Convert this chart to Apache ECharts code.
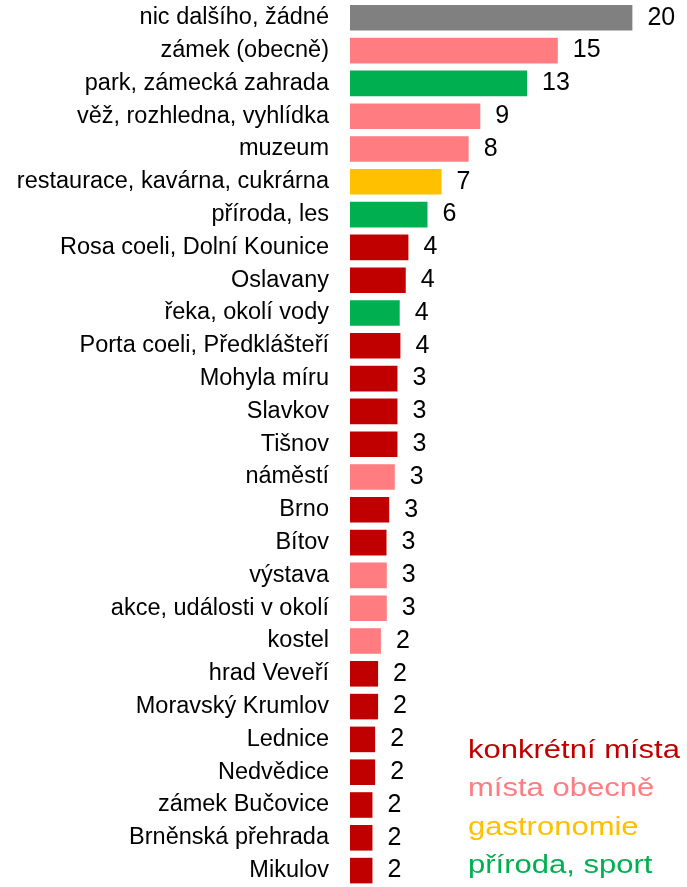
<!DOCTYPE html>
<html><head><meta charset="utf-8">
<script src="https://cdn.jsdelivr.net/npm/echarts@6/dist/echarts.min.js"></script>
<style>html,body{margin:0;padding:0;background:#fff}#c{width:687px;height:887px}</style>
</head><body><div id="c"></div>
<script>
const categories = ["nic dalšího, žádné","zámek (obecně)","park, zámecká zahrada","věž, rozhledna, vyhlídka","muzeum","restaurace, kavárna, cukrárna","příroda, les","Rosa coeli, Dolní Kounice","Oslavany","řeka, okolí vody","Porta coeli, Předklášteří","Mohyla míru","Slavkov","Tišnov","náměstí","Brno","Bítov","výstava","akce, události v okolí","kostel","hrad Veveří","Moravský Krumlov","Lednice","Nedvědice","zámek Bučovice","Brněnská přehrada","Mikulov"];
const values = [20.11,14.80,12.61,9.28,8.45,6.52,5.52,4.16,3.97,3.54,3.59,3.38,3.38,3.38,3.19,2.79,2.60,2.62,2.62,2.20,2.00,2.00,1.79,1.79,1.60,1.60,1.60];
const groups = ["none","obecne","priroda","obecne","obecne","gastro","priroda","konkretni","konkretni","priroda","konkretni","konkretni","konkretni","konkretni","obecne","konkretni","konkretni","obecne","obecne","obecne","konkretni","konkretni","konkretni","konkretni","konkretni","konkretni","konkretni"];
const legendKeys = ["konkretni","obecne","gastro","priroda"];
const legendNames = ["konkrétní místa","místa obecně","gastronomie","příroda, sport"];
const groupColors = {none:"#808080",konkretni:"#C00000",obecne:"#FF7C80",gastro:"#FFC000",priroda:"#00B050"};

const chart = echarts.init(document.getElementById('c'), null, {renderer:'canvas'});
const font = '"Liberation Sans", Arial, sans-serif';
chart.setOption({
  animation:false,
  grid:{left:350, top:1.4, width:338.9, height:889.6, containLabel:false},
  xAxis:{type:'value', min:0, max:24, show:false},
  yAxis:{type:'category', data:categories, inverse:true,
    axisLine:{show:false}, axisTick:{show:false},
    axisLabel:{fontFamily:font, fontSize:23.5, color:'#000', margin:21}},
  series:[{type:'bar', barWidth:'78%',
    data: values.map((v,i)=>({value:v, itemStyle:{color:groupColors[groups[i]]}})),
    label:{show:true, position:'right', distance:15, fontFamily:font, fontSize:25, color:'#000',
      formatter:p=>Math.round(p.value)}}],
  graphic: legendNames.map((n,i)=>({type:'text', x:468, y:737+i*38.4, scaleX:1.17,
    style:{text:n, fontFamily:font, fontSize:26.5, fill:groupColors[legendKeys[i]]}}))
});
</script></body></html>
